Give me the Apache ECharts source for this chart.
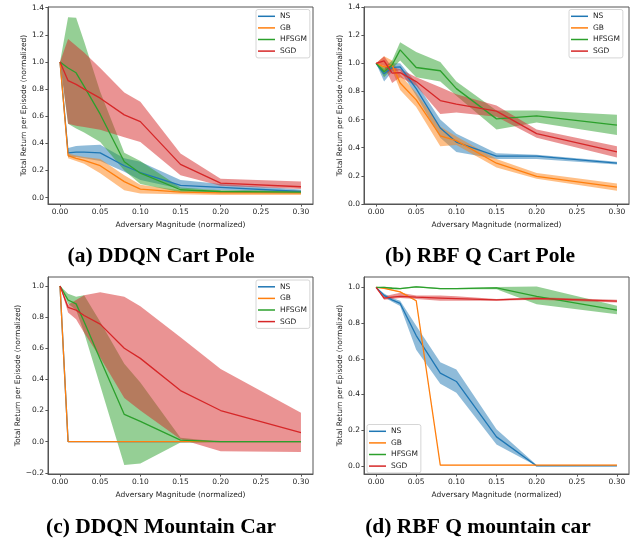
<!DOCTYPE html>
<html><head><meta charset="utf-8">
<script src="https://cdn.jsdelivr.net/npm/echarts@6/dist/echarts.min.js"></script>
<style>html,body{margin:0;padding:0;background:#fff}#c{width:634px;height:542px}</style>
</head><body><div id="c"></div>
<script>
// ---------- data ----------
const xValues = [0, 0.01, 0.02, 0.03, 0.05, 0.08, 0.10, 0.15, 0.20, 0.30];
const seriesNames = ['NS', 'GB', 'HFSGM', 'SGD'];
const seriesColors = ['#1f77b4', '#ff7f0e', '#2ca02c', '#d62728'];
const bandColors = ['rgba(31,119,180,0.5)', 'rgba(255,127,14,0.5)', 'rgba(44,160,44,0.5)', 'rgba(214,39,40,0.5)'];
const xTicks = [0, 0.05, 0.10, 0.15, 0.20, 0.25, 0.30];
const yTicksCart = [0, 0.2, 0.4, 0.6, 0.8, 1.0, 1.2, 1.4];
const yTicksDDQNCar = [-0.2, 0, 0.2, 0.4, 0.6, 0.8, 1.0];
const yTicksRBFCar = [0, 0.2, 0.4, 0.6, 0.8, 1.0];
const panelTitles = ['(a) DDQN Cart Pole', '(b) RBF Q Cart Pole', '(c) DDQN Mountain Car', '(d) RBF Q mountain car'];
const xAxisTitle = 'Adversary Magnitude (normalized)';
const yAxisTitle = 'Total Return per Episode (normalized)';

// (a) DDQN Cart Pole
const a_NS       = [1.0, 0.33, 0.335, 0.335, 0.33, 0.235, 0.185, 0.09, 0.075, 0.045];
const a_NS_lo    = [1.0, 0.30, 0.30, 0.29, 0.27, 0.19, 0.13, 0.065, 0.055, 0.035];
const a_NS_hi    = [1.0, 0.365, 0.38, 0.385, 0.39, 0.29, 0.265, 0.13, 0.10, 0.06];
const a_GB       = [1.0, 0.31, 0.29, 0.275, 0.235, 0.118, 0.063, 0.04, 0.035, 0.035];
const a_GB_lo    = [1.0, 0.29, 0.27, 0.25, 0.18, 0.055, 0.03, 0.025, 0.02, 0.02];
const a_GB_hi    = [1.0, 0.325, 0.31, 0.30, 0.285, 0.165, 0.095, 0.055, 0.05, 0.05];
const a_HFSGM    = [1.0, 0.955, 0.92, 0.82, 0.615, 0.265, 0.18, 0.058, 0.045, 0.04];
const a_HFSGM_lo = [1.0, 0.545, 0.51, 0.48, 0.41, 0.20, 0.10, 0.04, 0.035, 0.03];
const a_HFSGM_hi = [1.0, 1.33, 1.325, 1.15, 0.78, 0.33, 0.27, 0.075, 0.055, 0.05];
const a_SGD      = [1.0, 0.862, 0.835, 0.80, 0.733, 0.61, 0.56, 0.245, 0.107, 0.08];
const a_SGD_lo   = [1.0, 0.545, 0.53, 0.52, 0.50, 0.445, 0.41, 0.165, 0.088, 0.063];
const a_SGD_hi   = [1.0, 1.17, 1.12, 1.07, 0.955, 0.775, 0.707, 0.325, 0.14, 0.118];

// (b) RBF Q Cart Pole
const b_NS       = [1.0, 0.925, 0.97, 0.975, 0.82, 0.54, 0.44, 0.34, 0.34, 0.29];
const b_NS_lo    = [1.0, 0.87, 0.94, 0.95, 0.77, 0.47, 0.37, 0.32, 0.32, 0.28];
const b_NS_hi    = [1.0, 0.96, 1.0, 1.0, 0.86, 0.60, 0.50, 0.36, 0.35, 0.30];
const b_GB       = [1.0, 0.975, 0.988, 0.86, 0.74, 0.485, 0.45, 0.29, 0.196, 0.12];
const b_GB_lo    = [1.0, 0.93, 0.95, 0.81, 0.69, 0.41, 0.42, 0.26, 0.18, 0.095];
const b_GB_hi    = [1.0, 1.05, 1.02, 0.92, 0.79, 0.55, 0.48, 0.32, 0.22, 0.145];
const b_HFSGM    = [1.0, 0.94, 0.988, 1.095, 0.97, 0.947, 0.82, 0.605, 0.626, 0.56];
const b_HFSGM_lo = [1.0, 0.90, 0.96, 1.02, 0.90, 0.87, 0.77, 0.53, 0.58, 0.49];
const b_HFSGM_hi = [1.0, 0.97, 1.02, 1.15, 1.08, 1.01, 0.87, 0.665, 0.665, 0.635];
const b_SGD      = [1.0, 1.017, 0.93, 0.934, 0.87, 0.735, 0.71, 0.66, 0.50, 0.37];
const b_SGD_lo   = [1.0, 0.98, 0.86, 0.90, 0.84, 0.64, 0.65, 0.62, 0.47, 0.33];
const b_SGD_hi   = [1.0, 1.05, 0.97, 0.96, 0.90, 0.83, 0.78, 0.70, 0.53, 0.41];

// (c) DDQN Mountain Car
const c_NS       = [1.0, 0, 0, 0, 0, 0, 0, 0, 0, 0];
const c_NS_lo    = [1.0, 0, 0, 0, 0, 0, 0, 0, 0, 0];
const c_NS_hi    = [1.0, 0, 0, 0, 0, 0, 0, 0, 0, 0];
const c_GB       = [1.0, 0, 0, 0, 0, 0, 0, 0, 0, 0];
const c_GB_lo    = [1.0, 0, 0, 0, 0, 0, 0, 0, 0, 0];
const c_GB_hi    = [1.0, 0, 0, 0, 0, 0, 0, 0, 0, 0];
const c_HFSGM    = [1.0, 0.91, 0.885, 0.77, 0.53, 0.175, 0.13, 0.01, 0.0, 0.0];
const c_HFSGM_lo = [1.0, 0.885, 0.845, 0.70, 0.36, -0.15, -0.14, -0.005, 0.0, 0.0];
const c_HFSGM_hi = [1.0, 0.95, 0.93, 0.94, 0.77, 0.50, 0.38, 0.025, 0.0, 0.0];
const c_SGD      = [1.0, 0.862, 0.845, 0.81, 0.755, 0.60, 0.535, 0.328, 0.20, 0.058];
const c_SGD_lo   = [1.0, 0.83, 0.787, 0.70, 0.54, 0.28, 0.20, 0.015, -0.062, -0.066];
const c_SGD_hi   = [1.0, 0.88, 0.91, 0.94, 0.96, 0.93, 0.87, 0.67, 0.467, 0.186];

// (d) RBF Q mountain car
const d_NS       = [1.0, 0.955, 0.93, 0.91, 0.73, 0.52, 0.473, 0.163, 0.0, 0.0];
const d_NS_lo    = [1.0, 0.945, 0.92, 0.895, 0.65, 0.46, 0.41, 0.12, 0.0, 0.0];
const d_NS_hi    = [1.0, 0.965, 0.94, 0.925, 0.785, 0.58, 0.54, 0.205, 0.005, 0.0];
const d_GB       = [1.0, 0.995, 0.985, 0.975, 0.925, 0.005, 0.005, 0.005, 0.005, 0.005];
const d_GB_lo    = [1.0, 0.993, 0.982, 0.972, 0.922, 0.003, 0.003, 0.003, 0.003, 0.003];
const d_GB_hi    = [1.0, 0.997, 0.988, 0.978, 0.928, 0.007, 0.007, 0.007, 0.007, 0.007];
const d_HFSGM    = [1.0, 1.0, 0.995, 0.993, 1.003, 0.993, 0.993, 0.997, 0.95, 0.873];
const d_HFSGM_lo = [1.0, 0.998, 0.99, 0.99, 1.0, 0.99, 0.99, 0.99, 0.905, 0.85];
const d_HFSGM_hi = [1.0, 1.003, 1.0, 0.997, 1.007, 0.997, 0.997, 1.002, 1.005, 0.897];
const d_SGD      = [1.0, 0.94, 0.945, 0.95, 0.945, 0.94, 0.937, 0.93, 0.938, 0.923];
const d_SGD_lo   = [1.0, 0.93, 0.935, 0.94, 0.935, 0.925, 0.925, 0.925, 0.93, 0.915];
const d_SGD_hi   = [1.0, 0.95, 0.96, 0.97, 0.955, 0.955, 0.95, 0.935, 0.945, 0.93];

// ---------- layout ----------
const panels = [
  { grid: {left: 48, top: 7, width: 265, height: 197}, yMin: -0.047, yMax: 1.405, yTicks: yTicksCart, yNameGap: 20,
    legend: {left: 256, top: 9.5}, title: [161, 256],
    sets: [[a_NS, a_NS_lo, a_NS_hi], [a_GB, a_GB_lo, a_GB_hi], [a_HFSGM, a_HFSGM_lo, a_HFSGM_hi], [a_SGD, a_SGD_lo, a_SGD_hi]] },
  { grid: {left: 364, top: 7, width: 265, height: 197}, yMin: 0, yMax: 1.4, yTicks: yTicksCart, yNameGap: 20,
    legend: {left: 569, top: 9.5}, title: [480, 256],
    sets: [[b_NS, b_NS_lo, b_NS_hi], [b_GB, b_GB_lo, b_GB_hi], [b_HFSGM, b_HFSGM_lo, b_HFSGM_hi], [b_SGD, b_SGD_lo, b_SGD_hi]] },
  { grid: {left: 48, top: 277, width: 265, height: 197}, yMin: -0.2075, yMax: 1.0575, yTicks: yTicksDDQNCar, yNameGap: 24,
    legend: {left: 256, top: 280}, title: [161, 527],
    sets: [[c_NS, c_NS_lo, c_NS_hi], [c_GB, c_GB_lo, c_GB_hi], [c_HFSGM, c_HFSGM_lo, c_HFSGM_hi], [c_SGD, c_SGD_lo, c_SGD_hi]] },
  { grid: {left: 364, top: 277, width: 265, height: 197}, yMin: -0.045, yMax: 1.058, yTicks: yTicksRBFCar, yNameGap: 20,
    legend: {left: 367, top: 424.5}, title: [478, 527],
    sets: [[d_NS, d_NS_lo, d_NS_hi], [d_GB, d_GB_lo, d_GB_hi], [d_HFSGM, d_HFSGM_lo, d_HFSGM_hi], [d_SGD, d_SGD_lo, d_SGD_hi]] }
];

const FONT = 'DejaVu Sans';
const SPINE = '#555';
const TXT = '#222';

const grids = [], xAxes = [], yAxes = [], series = [], legends = [], graphics = [];
panels.forEach((p, pi) => {
  grids.push(Object.assign({show: true, borderColor: SPINE, borderWidth: 1, backgroundColor: '#fff', containLabel: false}, p.grid));
  xAxes.push({
    type: 'value', gridIndex: pi, min: -0.015, max: 0.315,
    name: xAxisTitle, nameLocation: 'middle', nameGap: 17,
    nameTextStyle: {fontFamily: FONT, fontSize: 7.5, color: TXT},
    axisLine: {show: true, onZero: false, lineStyle: {color: SPINE, width: 1}},
    splitLine: {show: false},
    axisTick: {show: true, customValues: xTicks, length: 2.6, lineStyle: {color: SPINE}},
    axisLabel: {customValues: xTicks, formatter: v => v.toFixed(2), fontFamily: FONT, fontSize: 7.5, color: TXT, margin: 4}
  });
  yAxes.push({
    type: 'value', gridIndex: pi, min: p.yMin, max: p.yMax,
    name: yAxisTitle, nameLocation: 'middle', nameRotate: 90, nameGap: p.yNameGap,
    nameTextStyle: {fontFamily: FONT, fontSize: 7.5, color: TXT},
    axisLine: {show: true, onZero: false, lineStyle: {color: SPINE, width: 1}},
    splitLine: {show: false},
    axisTick: {show: true, customValues: p.yTicks, length: 2.6, lineStyle: {color: SPINE}},
    axisLabel: {customValues: p.yTicks, formatter: v => v.toFixed(1).replace('-', '\u2212'), fontFamily: FONT, fontSize: 7.5, color: TXT, margin: 4}
  });
  // shaded bands (below all lines), drawn through the axes' scales
  p.sets.forEach((set, si) => {
    const lo = set[1], hi = set[2];
    series.push({
      type: 'custom', name: seriesNames[si] + ' band', coordinateSystem: 'cartesian2d',
      xAxisIndex: pi, yAxisIndex: pi, silent: true, z: 1, animation: false,
      data: xValues.map((x, i) => [x, lo[i], hi[i]]),
      encode: {x: 0, y: [1, 2]},
      renderItem: (params, api) => {
        if (params.dataIndex !== 0) return {type: 'group', children: []};
        const pts = [];
        for (let i = 0; i < xValues.length; i++) pts.push(api.coord([xValues[i], hi[i]]));
        for (let i = xValues.length - 1; i >= 0; i--) pts.push(api.coord([xValues[i], lo[i]]));
        return {type: 'polygon', shape: {points: pts}, style: {fill: bandColors[si], stroke: null}};
      }
    });
  });
  p.sets.forEach((set, si) => {
    const vals = set[0];
    series.push({
      type: 'line', name: seriesNames[si], xAxisIndex: pi, yAxisIndex: pi, color: seriesColors[si],
      data: xValues.map((x, i) => [x, vals[i]]), symbol: 'none',
      lineStyle: {color: seriesColors[si], width: 1.3}, z: 3, animation: false
    });
  });
  legends.push({
    show: true, orient: 'vertical', left: p.legend.left, top: p.legend.top,
    data: seriesNames, icon: 'rect', itemWidth: 17, itemHeight: 1.5, itemGap: 0,
    selectedMode: false, padding: [1, 3, 1, 2],
    backgroundColor: 'rgba(255,255,255,0.85)', borderColor: '#ccc', borderWidth: 0.8, borderRadius: 2,
    textStyle: {fontFamily: FONT, fontSize: 7.5, color: TXT, lineHeight: 11.6}, z: 10
  });
  graphics.push({
    type: 'text', x: p.title[0], y: p.title[1], z: 10,
    style: {text: panelTitles[pi], align: 'center', verticalAlign: 'middle',
            font: 'bold 21.5px "Liberation Serif"', fill: '#000'}
  });
});

const chart = echarts.init(document.getElementById('c'), null, {renderer: 'canvas'});
chart.setOption({
  animation: false,
  backgroundColor: '#fff',
  grid: grids, xAxis: xAxes, yAxis: yAxes, series: series, legend: legends, graphic: graphics
});
</script>
</body></html>
